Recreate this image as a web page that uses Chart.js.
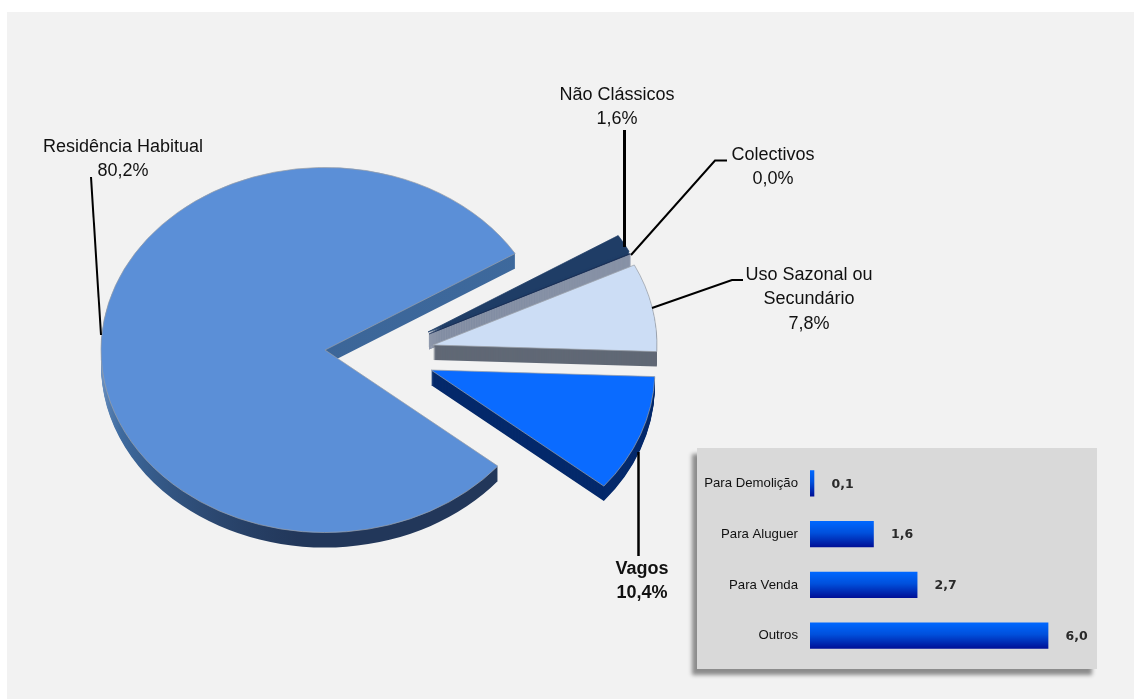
<!DOCTYPE html>
<html lang="pt">
<head>
<meta charset="utf-8">
<title>Alojamentos</title>
<script src="https://cdn.jsdelivr.net/npm/chart.js@4/dist/chart.umd.min.js"></script>
<style>
html,body{margin:0;padding:0;background:#fff;width:1134px;height:699px;overflow:hidden}
#panel{position:absolute;left:7px;top:12px;width:1127px;height:687px;background:#f2f2f2}
#pie{position:absolute;left:0;top:0}
#inset{position:absolute;left:697px;top:448px;width:400px;height:221px;background:#d9d9d9;box-shadow:-5px 6px 4px #8c8c8c}
#bars{position:absolute;left:0;top:0}
</style>
</head>
<body>
<div id="panel"></div>
<canvas id="pie" width="1134" height="699"></canvas>
<div id="inset"><canvas id="bars" width="400" height="221"></canvas></div>
<script>
const categories = ['Residência Habitual', 'Não Clássicos', 'Colectivos', 'Uso Sazonal ou\nSecundário', 'Vagos'];
const shares = [80.2, 1.6, 0.04, 7.8, 10.4];
const vagosCategories = ['Para Demolição', 'Para Aluguer', 'Para Venda', 'Outros'];
const vagosValues = [0.1, 1.6, 2.7, 6.0];

const faceColors = ['#5B8FD7', '#1F3D66', '#1A2F55', '#CCDDF5', '#0A6BFF'];
const sideColors = [null, '#1F3D66', '#8A94A8', '#606875', '#04296B'];
const sliceShift = [[0, 0], [103, -18], [104, -16], [108, -5], [106, 20]];
const labelAnchors = [[123, 152], [617, 99.5], [773, 160], [809, 280], [642, 574]];
const leaders = [
  [[91, 177], [101, 335]],
  [[624.5, 130], [624.5, 247]],
  [[631, 255], [715, 160.5], [727, 160.5]],
  [[652, 308], [732, 280], [743, 280]],
  [[638.5, 452], [638.5, 556]]
];
const leaderWidths = [2, 3, 2, 2, 2.5];
const DEPTH = 15, SQUASH = 0.815;
const FONT = '"Liberation Sans", Arial, sans-serif';
const pct = v => v.toFixed(1).replace('.', ',') + '%';

function placeArc(ctx, arc, dx, dy) {
  ctx.translate(arc.x + dx, arc.y + dy);
  ctx.scale(1, SQUASH);
  ctx.translate(-arc.x, -arc.y);
}
function drawWith(arc, ctx, fill, stroke, bw) {
  const saved = arc.options;
  arc.options = Object.create(saved, {
    backgroundColor: {value: fill},
    borderColor: {value: stroke},
    borderWidth: {value: bw}
  });
  arc.draw(ctx);
  arc.options = saved;
}
const pie3d = {
  id: 'pie3d',
  beforeDatasetDraw(chart) {
    const ctx = chart.ctx;
    const arcs = chart.getDatasetMeta(0).data;
    arcs.forEach((arc, i) => {
      const [dx, dy] = sliceShift[i];
      let side = sideColors[i];
      if (!side) {
        const g = ctx.createLinearGradient(arc.x - 238.4, arc.y + 31.9, arc.x - 108.6, arc.y + 267);
        g.addColorStop(0, '#6A90C0');
        g.addColorStop(0.26, '#3E6A9E');
        g.addColorStop(1, '#22375A');
        side = g;
      }
      const sliver = i === 2;
      for (let d = DEPTH; d >= 1; d--) {
        ctx.save();
        placeArc(ctx, arc, dx, dy + d);
        drawWith(arc, ctx, side, sliver ? side : 'rgba(0,0,0,0)', sliver ? 1 : 0);
        ctx.restore();
      }
      ctx.save();
      placeArc(ctx, arc, dx, dy);
      drawWith(arc, ctx, faceColors[i], i === 1 || i === 2 ? faceColors[i] : '#9a9fa8', i === 2 ? 0.6 : 0.8);
      ctx.restore();
    });
    return false;
  },
  afterDraw(chart) {
    const ctx = chart.ctx;
    ctx.save();
    ctx.strokeStyle = '#000';
    ctx.lineJoin = 'miter';
    leaders.forEach((pts, i) => {
      ctx.lineWidth = leaderWidths[i];
      ctx.beginPath();
      pts.forEach((p, k) => k ? ctx.lineTo(p[0], p[1]) : ctx.moveTo(p[0], p[1]));
      ctx.stroke();
    });
    ctx.fillStyle = '#111';
    ctx.textAlign = 'center';
    ctx.textBaseline = 'alphabetic';
    categories.forEach((c, i) => {
      const bold = i === 4;
      ctx.font = (bold ? 'bold ' : '') + '18px ' + FONT;
      const lines = c.split('\n').concat(pct(shares[i]));
      lines.forEach((t, k) => ctx.fillText(t, labelAnchors[i][0], labelAnchors[i][1] + k * 24.4));
    });
    ctx.restore();
  }
};
new Chart(document.getElementById('pie'), {
  type: 'pie',
  data: {labels: categories, datasets: [{data: shares, backgroundColor: faceColors, borderWidth: 0}]},
  options: {
    responsive: false, animation: false, events: [],
    radius: 224, rotation: 129.5,
    layout: {padding: {right: 484, top: 1}},
    plugins: {legend: {display: false}, tooltip: {enabled: false}}
  },
  plugins: [pie3d]
});

const barValueLabels = {
  id: 'barValueLabels',
  afterDatasetsDraw(chart) {
    const ctx = chart.ctx;
    ctx.save();
    ctx.font = 'bold 12.5px "DejaVu Sans", sans-serif';
    ctx.fillStyle = '#2a2a2a';
    ctx.textAlign = 'left';
    ctx.textBaseline = 'middle';
    chart.getDatasetMeta(0).data.forEach((bar, i) => {
      ctx.fillText(vagosValues[i].toFixed(1).replace('.', ','), bar.x + 17.5, bar.y + 1);
    });
    ctx.restore();
  }
};
new Chart(document.getElementById('bars'), {
  type: 'bar',
  data: {
    labels: vagosCategories,
    datasets: [{
      data: vagosValues,
      barThickness: 25.5,
      borderWidth: 0,
      backgroundColor(c) {
        const ch = c.chart;
        const y = ch.scales.y ? ch.scales.y.getPixelForValue(c.dataIndex) : NaN;
        if (!Number.isFinite(y)) return '#0050d0';
        const g = ch.ctx.createLinearGradient(0, y - 13, 0, y + 13);
        g.addColorStop(0, '#0068FF');
        g.addColorStop(0.45, '#0050DC');
        g.addColorStop(1, '#000F96');
        return g;
      }
    }]
  },
  options: {
    indexAxis: 'y', responsive: false, animation: false, events: [],
    layout: {autoPadding: false, padding: {top: 10, bottom: 7.7, right: 9.3, left: 0}},
    scales: {
      x: {display: false, min: 0, max: 7},
      y: {
        afterFit(s) { s.width = 113; },
        grid: {drawOnChartArea: false, drawTicks: true, tickLength: 12, tickColor: 'rgba(0,0,0,0)'},
        border: {display: false},
        ticks: {color: '#111', padding: 0, font: {family: '"Liberation Sans", sans-serif', size: 13.2}}
      }
    },
    plugins: {legend: {display: false}, tooltip: {enabled: false}}
  },
  plugins: [barValueLabels]
});
</script>
</body>
</html>
